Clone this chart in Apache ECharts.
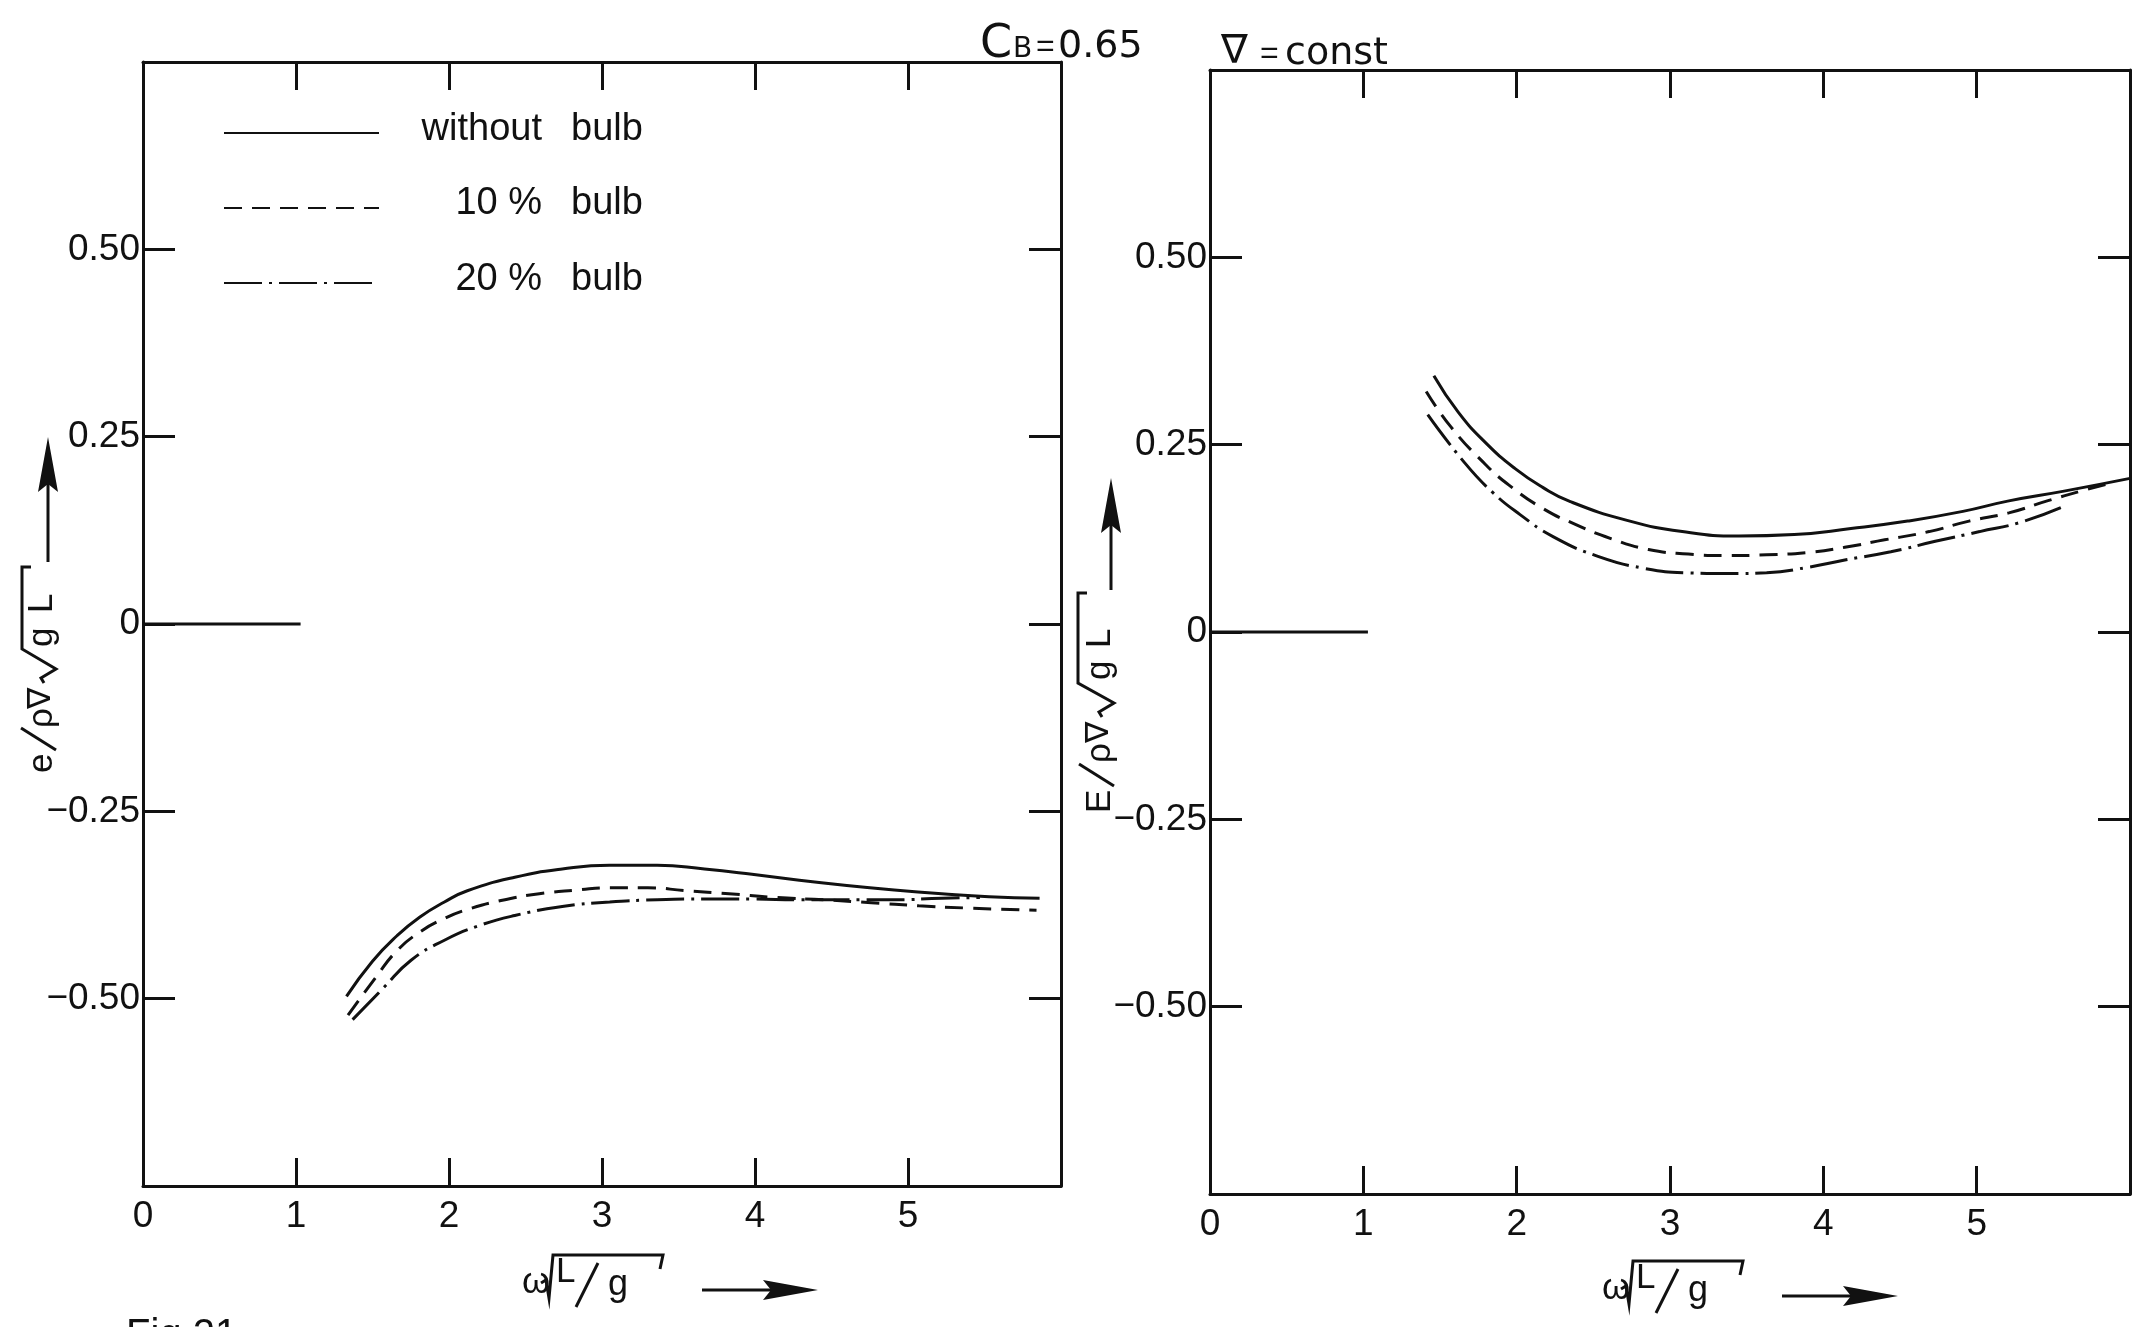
<!DOCTYPE html>
<html><head><meta charset="utf-8">
<script src="https://cdn.jsdelivr.net/npm/echarts@6/dist/echarts.min.js"></script>
<style>html,body{margin:0;padding:0;background:#fff}#c{width:2148px;height:1327px}</style>
</head><body><div id="c"></div>
<script>
// ---------- data ----------
const seriesNames = ['without bulb', '10 % bulb', '20 % bulb'];
const legendLead = ['without', '10 %', '20 %'];
const legendTail = 'bulb';
const xTickValues = [0, 1, 2, 3, 4, 5];
const yTickValues = [-0.5, -0.25, 0, 0.25, 0.5];

// left panel: e / (rho nabla sqrt(gL))
const leftSolidX = [1.33, 1.50, 1.66, 1.81, 1.97, 2.12, 2.43, 2.74, 3.05, 3.36, 3.67, 3.98, 4.29, 4.60, 4.91, 5.22, 5.53, 5.86];
const leftSolidY = [-0.497, -0.450, -0.416, -0.391, -0.371, -0.356, -0.338, -0.327, -0.322, -0.322, -0.327, -0.334, -0.342, -0.349, -0.355, -0.360, -0.364, -0.366];
const leftDashX = [1.34, 1.52, 1.66, 1.81, 1.97, 2.12, 2.34, 2.59, 2.84, 3.05, 3.30, 3.55, 3.83, 4.14, 4.45, 4.76, 5.07, 5.38, 5.84];
const leftDashY = [-0.522, -0.472, -0.436, -0.411, -0.393, -0.381, -0.369, -0.360, -0.355, -0.352, -0.352, -0.356, -0.360, -0.365, -0.368, -0.372, -0.376, -0.379, -0.382];
const leftDotX = [1.37, 1.57, 1.75, 1.97, 2.19, 2.43, 2.74, 3.05, 3.36, 3.67, 3.98, 4.29, 4.60, 4.91, 5.22, 5.47];
const leftDotY = [-0.528, -0.486, -0.449, -0.422, -0.403, -0.389, -0.377, -0.371, -0.368, -0.367, -0.367, -0.368, -0.368, -0.368, -0.366, -0.365];

// right panel: E / (rho nabla sqrt(gL))
const rightSolidX = [1.46, 1.62, 1.80, 1.99, 2.17, 2.35, 2.72, 3.08, 3.45, 3.81, 4.18, 4.55, 4.91, 5.21, 5.57, 6.0];
const rightSolidY = [0.342, 0.293, 0.252, 0.218, 0.193, 0.174, 0.149, 0.134, 0.128, 0.130, 0.138, 0.148, 0.161, 0.175, 0.188, 0.205];
const rightDashX = [1.41, 1.57, 1.78, 1.95, 2.17, 2.39, 2.61, 2.86, 3.12, 3.38, 3.63, 3.89, 4.14, 4.40, 4.69, 4.95, 5.21, 5.46, 5.68, 5.90];
const rightDashY = [0.321, 0.274, 0.227, 0.196, 0.165, 0.143, 0.125, 0.110, 0.104, 0.102, 0.103, 0.106, 0.113, 0.123, 0.134, 0.148, 0.159, 0.175, 0.188, 0.200];
const rightDotX = [1.42, 1.66, 1.84, 2.02, 2.24, 2.53, 2.83, 3.12, 3.41, 3.63, 3.89, 4.14, 4.44, 4.73, 5.02, 5.28, 5.55];
const rightDotY = [0.290, 0.226, 0.187, 0.157, 0.127, 0.101, 0.085, 0.079, 0.078, 0.079, 0.086, 0.096, 0.107, 0.121, 0.134, 0.146, 0.166];

// short zero reference line drawn at the left of each panel
const zeroLineX = [0, 1.03];
const zeroLineY = [0, 0];

// ---------- styling ----------
const INK = '#111';
const FONT = "'Liberation Sans','DejaVu Sans',sans-serif";
const FONT_DV = "'DejaVu Sans','Liberation Sans',sans-serif";
const DASHES = ['solid', [18, 10], [38, 7, 3, 7]];

const chart = echarts.init(document.getElementById('c'), null, {renderer: 'canvas'});

function pairs(xs, ys) { return xs.map((x, i) => [x, ys[i]]); }
function lineSeries(name, xs, ys, ax, dash) {
  return {
    type: 'line', name, xAxisIndex: ax, yAxisIndex: ax, data: pairs(xs, ys),
    showSymbol: false, symbol: 'none', smooth: 0.5, silent: true,
    lineStyle: {color: INK, width: 3, type: dash}, itemStyle: {color: INK}
  };
}
function zeroSeries(ax) {
  return {type: 'line', name: 'zero' + ax, xAxisIndex: ax, yAxisIndex: ax, data: pairs(zeroLineX, zeroLineY),
    showSymbol: false, symbol: 'none', silent: true, lineStyle: {color: INK, width: 3}};
}
function xAxis(grid, pos, labels) {
  return {
    type: 'value', gridIndex: grid, position: pos, min: 0, max: 6, interval: 1,
    axisLine: {show: true, onZero: false, lineStyle: {color: INK, width: 3}},
    axisTick: {show: true, inside: true, length: 28, lineStyle: {color: INK, width: 3}},
    axisLabel: {show: labels, margin: 12, color: INK, fontSize: 37, fontFamily: FONT,
      formatter: v => (xTickValues.includes(v) ? String(v) : '')},
    splitLine: {show: false}
  };
}
function yAxis(grid, pos, labels) {
  return {
    type: 'value', gridIndex: grid, position: pos, min: -0.75, max: 0.75, interval: 0.25,
    axisLine: {show: true, onZero: false, lineStyle: {color: INK, width: 3}},
    axisTick: {show: true, inside: true, length: 32, lineStyle: {color: INK, width: 3}},
    axisLabel: {show: labels, margin: 3, color: INK, fontSize: 37, fontFamily: FONT,
      formatter: v => {
        if (!yTickValues.some(t => Math.abs(t - v) < 1e-9)) return '';
        if (Math.abs(v) < 1e-9) return '0';
        return (v < 0 ? '\u2212' : '') + Math.abs(v).toFixed(2);
      }},
    splitLine: {show: false}
  };
}

function txt(x, y, text, size, family) {
  return {type: 'text', x, y, silent: true,
    style: {text, font: size + 'px ' + (family || FONT), fill: INK, align: 'left', verticalAlign: 'middle'}};
}
function arrow(a0, tip, yy) {
  return [
    {type: 'line', silent: true, shape: {x1: a0, y1: yy, x2: tip - 40, y2: yy}, style: {stroke: INK, lineWidth: 3}},
    {type: 'polygon', silent: true, shape: {points: [[tip, yy], [tip - 55, yy - 10], [tip - 47, yy], [tip - 55, yy + 10]]}, style: {fill: INK}}
  ];
}

// rotated y-axis title: glyphs laid along the reading direction (local x); arrow beside it
function yTitle(x0, y0, first, p) {
  const fs = 35;
  const ch = [
    txt(p.first, 0, first, fs),
    {type: 'line', silent: true, shape: {x1: p.slash, y1: 14, x2: p.slash + 22, y2: -21}, style: {stroke: INK, lineWidth: 3}},
    txt(p.rho, 0, '\u03c1', fs),
    txt(p.nabla, 0, '\u2207', fs - 3, FONT_DV),
    {type: 'polyline', silent: true,
      shape: {points: [[p.rad, 2], [p.rad + 5, -1], [p.rad + 14, 14], [p.rad + 34, p.barY], [p.bar, p.barY], [p.bar, p.barY + 9]]},
      style: {stroke: INK, lineWidth: 3, fill: null}},
    txt(p.g, 0, 'g', fs),
    txt(p.L, 0, 'L', fs)
  ].concat(arrow(p.a0, p.tip, p.ay));
  return {type: 'group', x: x0, y: y0, rotation: Math.PI / 2, silent: true, children: ch};
}

// horizontal axis title: omega sqrt(L/g) ->
function xTitle(x0, y0) {
  return {
    type: 'group', x: x0, y: y0, silent: true,
    children: [
      txt(0, -12.5, '\u03c9', 36),
      {type: 'polyline', silent: true, shape: {points: [[19, -13], [24, -16], [27, 2], [31, -41], [141, -41], [138, -27]]},
        style: {stroke: INK, lineWidth: 3, fill: null}},
      txt(34, -23.5, 'L', 35),
      {type: 'line', silent: true, shape: {x1: 54, y1: 11, x2: 76, y2: -33}, style: {stroke: INK, lineWidth: 3}},
      txt(86, -10.5, 'g', 36)
    ].concat(arrow(180, 296, -6))
  };
}

const legendGraphics = [];
const legendRowY = [131, 205, 281];
legendLead.forEach((t, i) => {
  legendGraphics.push({type: 'text', x: 542, y: legendRowY[i] - 1, silent: true,
    style: {text: t, font: '38px ' + FONT, fill: INK, align: 'right', verticalAlign: 'middle'}});
  legendGraphics.push({type: 'text', x: 571, y: legendRowY[i] - 1, silent: true,
    style: {text: legendTail, font: '38px ' + FONT, fill: INK, align: 'left', verticalAlign: 'middle'}});
});

const option = {
  animation: false,
  backgroundColor: '#fff',
  grid: [
    {left: 143, top: 62, width: 918, height: 1124},
    {left: 1210, top: 70, width: 920, height: 1124}
  ],
  xAxis: [xAxis(0, 'bottom', true), xAxis(0, 'top', false), xAxis(1, 'bottom', true), xAxis(1, 'top', false)],
  yAxis: [yAxis(0, 'left', true), yAxis(0, 'right', false), yAxis(1, 'left', true), yAxis(1, 'right', false)],
  legend: {
    data: seriesNames, orient: 'vertical', left: 218, top: 113, itemWidth: 155, itemHeight: 30, itemGap: 45,
    selectedMode: false, padding: 5,
    itemStyle: {opacity: 0},
    textStyle: {color: INK, fontSize: 1, lineHeight: 30},
    formatter: () => ' '
  },
  series: [
    lineSeries(seriesNames[0], leftSolidX, leftSolidY, 0, DASHES[0]),
    lineSeries(seriesNames[1], leftDashX, leftDashY, 0, DASHES[1]),
    lineSeries(seriesNames[2], leftDotX, leftDotY, 0, DASHES[2]),
    lineSeries(seriesNames[0], rightSolidX, rightSolidY, 2, DASHES[0]),
    lineSeries(seriesNames[1], rightDashX, rightDashY, 2, DASHES[1]),
    lineSeries(seriesNames[2], rightDotX, rightDotY, 2, DASHES[2]),
    zeroSeries(0),
    zeroSeries(2)
  ],
  graphic: legendGraphics.concat([
    {type: 'text', x: 980, y: 68, silent: true, style: {text: 'C', font: '46px ' + FONT_DV, fill: INK, verticalAlign: 'bottom'}},
    {type: 'text', x: 1013, y: 64, silent: true, style: {text: 'B', font: '28px ' + FONT_DV, fill: INK, verticalAlign: 'bottom'}},
    {type: 'text', x: 1036, y: 63, silent: true, style: {text: '=', font: '32px ' + FONT, fill: INK, verticalAlign: 'bottom'}},
    {type: 'text', x: 1058, y: 66, silent: true, style: {text: '0.65', font: '38px ' + FONT_DV, fill: INK, verticalAlign: 'bottom'}},
    {type: 'text', x: 1221, y: 73, silent: true, style: {text: '\u2207', font: '40px ' + FONT_DV, fill: INK, verticalAlign: 'bottom'}},
    {type: 'text', x: 1260, y: 70, silent: true, style: {text: '=', font: '32px ' + FONT, fill: INK, verticalAlign: 'bottom'}},
    {type: 'text', x: 1285, y: 73, silent: true, style: {text: 'const', font: '38px ' + FONT_DV, fill: INK, verticalAlign: 'bottom'}},
    yTitle(42, 773, 'e', {first: 0, slash: 23, rho: 45, nabla: 64, rad: 90, barY: -20, bar: 206, g: 126, L: 160, a0: 211, tip: 336, ay: 6}),
    yTitle(1100, 813, 'E', {first: 0, slash: 27, rho: 50, nabla: 70, rad: 96, barY: -22, bar: 220, g: 133, L: 165, a0: 223, tip: 335, ay: 11}),
    xTitle(522, 1296),
    xTitle(1602, 1302),
    {type: 'text', x: 126, y: 1316, silent: true, style: {text: 'Fig.21', font: '40px ' + FONT, fill: INK, verticalAlign: 'top'}}
  ])
};
chart.setOption(option);
</script>
</body></html>
